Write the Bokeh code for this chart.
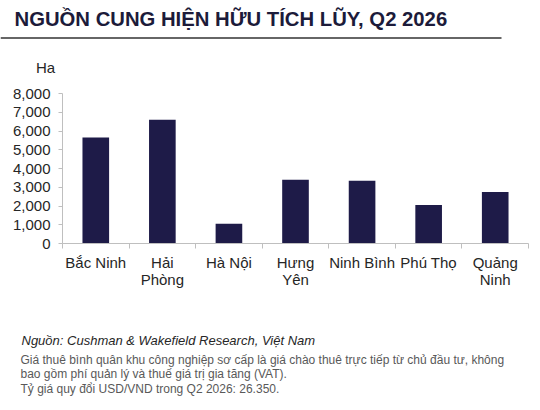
from bokeh.plotting import figure
from bokeh.layouts import column
from bokeh.models import Label, FixedTicker, Range1d, NumeralTickFormatter
from bokeh.embed import file_html
from bokeh.resources import INLINE

# ---- data ----
categories = ["Bắc Ninh", "Hải Phòng", "Hà Nội", "Hưng Yên", "Ninh Bình", "Phú Thọ", "Quảng Ninh"]
tick_labels = ["Bắc Ninh", "Hải\nPhòng", "Hà Nội", "Hưng\nYên", "Ninh Bình", "Phú Thọ", "Quảng\nNinh"]
supply_ha = [5650, 6600, 1060, 3400, 3350, 2050, 2750]
y_ticks = [0, 1000, 2000, 3000, 4000, 5000, 6000, 7000, 8000]

title_text = "NGUỒN CUNG HIỆN HỮU TÍCH LŨY, Q2 2026"
unit_text = "Ha"
source_text = "Nguồn: Cushman & Wakefield Research, Việt Nam"
note_lines = [
    "Giá thuê bình quân khu công nghiệp sơ cấp là giá chào thuê trực tiếp từ chủ đầu tư, không",
    "bao gồm phí quản lý và thuế giá trị gia tăng (VAT).",
    "Tỷ giá quy đổi USD/VND trong Q2 2026: 26.350.",
]

n = len(categories)
xs = list(range(n))
FONT = "Liberation Sans"
BAR = "#1e1b48"
AXIS = "#bfbfbf"
TXT = "#262626"
W = 540
TOP_H, MAIN_H, FOOT_H = 80, 240, 90


def blank_fig(h, y0):
    f = figure(width=W, height=h, x_range=Range1d(0, W), y_range=Range1d(y0 + h, y0),
               output_backend="svg", toolbar_location=None,
               x_axis_location=None, y_axis_location=None, min_border=0,
               frame_align=False)
    f.outline_line_color = None
    f.grid.visible = False
    return f


# ---- header ----
top = blank_fig(TOP_H, 0)
top.add_layout(Label(x=14, y=18, text=title_text, text_baseline="middle", text_align="left",
                     text_font=FONT, text_font_size="20.3px", text_font_style="bold",
                     text_color="#1c1b3a"))
top.segment(x0=[0], y0=[37.5], x1=[501], y1=[37.5], line_color="#333333", line_width=1.5)
top.add_layout(Label(x=45, y=67, text=unit_text, text_baseline="middle", text_align="center",
                     text_font=FONT, text_font_size="15px", text_color=TXT))

# ---- chart ----
p = figure(width=W, height=MAIN_H, x_range=Range1d(-0.5, n - 0.5), y_range=Range1d(0, 8000),
           output_backend="svg", toolbar_location=None, frame_align=False,
           min_border_left=62, min_border_right=12, min_border_top=13, min_border_bottom=77)
p.outline_line_color = None
p.xgrid.visible = False
p.ygrid.visible = False

p.vbar(x=xs, top=supply_ha, width=0.4, fill_color=BAR, line_color=None)

xa = p.xaxis[0]
xa.ticker = FixedTicker(ticks=xs, minor_ticks=[i - 0.5 for i in range(n + 1)])
xa.major_label_overrides = {i: t for i, t in zip(xs, tick_labels)}
xa.major_tick_in = 0
xa.major_tick_out = 0
xa.minor_tick_in = 0
xa.minor_tick_out = 5
xa.minor_tick_line_color = AXIS
xa.axis_line_color = AXIS
xa.major_label_standoff = 5
xa.major_label_text_font = FONT
xa.major_label_text_font_size = "15px"
xa.major_label_text_line_height = 1.05
xa.major_label_text_color = TXT

ya = p.yaxis[0]
ya.ticker = FixedTicker(ticks=y_ticks)
ya.formatter = NumeralTickFormatter(format="0,0")
ya.major_tick_in = 0
ya.major_tick_out = 4
ya.minor_tick_out = 0
ya.major_tick_line_color = AXIS
ya.axis_line_color = AXIS
ya.major_label_standoff = 8
ya.major_label_text_font = FONT
ya.major_label_text_font_size = "15px"
ya.major_label_text_color = TXT

# ---- footer ----
foot = blank_fig(FOOT_H, TOP_H + MAIN_H)
foot.add_layout(Label(x=21, y=340, text=source_text, text_baseline="middle", text_align="left",
                      text_font=FONT, text_font_size="13px", text_font_style="italic",
                      text_color=TXT))
for line, py in zip(note_lines, [359, 373, 388]):
    foot.add_layout(Label(x=20, y=py, text=line, text_baseline="middle", text_align="left",
                          text_font=FONT, text_font_size="12px", text_color="#595959"))

layout = column(top, p, foot, spacing=0)
open("out.html", "w").write(file_html(layout, INLINE))
